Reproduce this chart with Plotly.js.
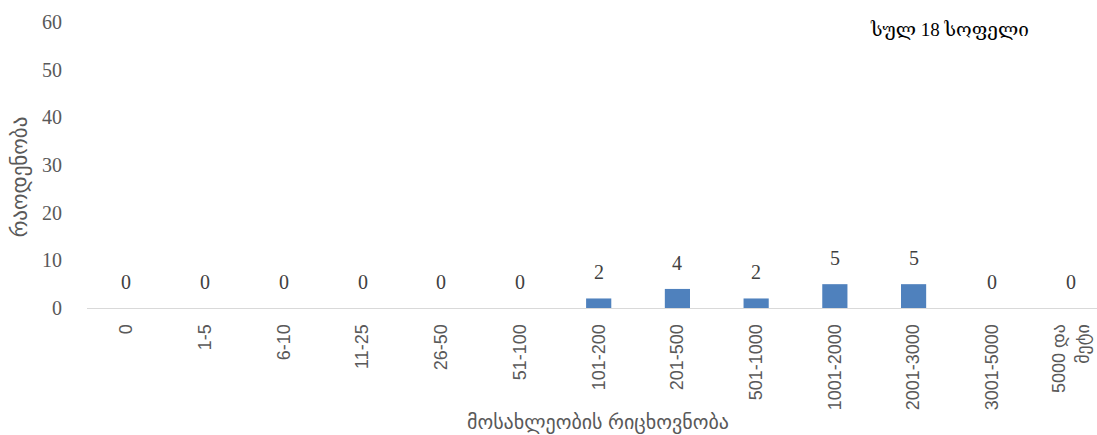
<!DOCTYPE html>
<html>
<head>
<meta charset="utf-8">
<script src="https://cdn.plot.ly/plotly-3.0.1.min.js"></script>
<style>html,body{margin:0;padding:0;overflow:hidden;background:#fff}</style>
</head>
<body>
<div id="chart" style="width:1097px;height:435px;"></div>
<script>
const categories = ["0","1-5","6-10","11-25","26-50","51-100","101-200","201-500","501-1000","1001-2000","2001-3000","3001-5000","5000 და<br>მეტი"];
const counts = [0,0,0,0,0,0,2,4,2,5,5,0,0];
const yTickValues = [0,10,20,30,40,50,60];
const xTitle = "მოსახლეობის რიცხოვნობა";
const yTitle = "რაოდენობა";
const noteText = "სულ 18 სოფელი";

const serif = "Liberation Serif, DejaVu Serif, serif";
const sans = "Liberation Sans, DejaVu Sans, sans-serif";

const labelAnnotations = categories.map((c, i) => ({
  x: c, y: counts[i], xref: 'x', yref: 'y',
  text: String(counts[i]), showarrow: false,
  yanchor: 'bottom', yshift: 13,
  font: {family: serif, size: 20, color: '#404040'}
}));

const trace = {
  type: 'bar',
  x: categories,
  y: counts,
  marker: {color: '#4f81bd'},
  hoverinfo: 'none'
};

const layout = {
  width: 1097, height: 435,
  margin: {l: 87, r: 0, t: 22, b: 127},
  paper_bgcolor: '#fff', plot_bgcolor: '#fff',
  showlegend: false,
  bargap: 0.68,
  xaxis: {
    type: 'category',
    range: [-0.5, 12.33],
    showgrid: false, zeroline: false,
    showline: true, linecolor: '#d9d9d9', linewidth: 1,
    ticks: '', tickangle: -90,
    ticklabelstandoff: 8,
    tickfont: {family: sans, size: 18, color: '#595959'}
  },
  yaxis: {
    range: [0, 60],
    tickvals: yTickValues,
    showgrid: false, zeroline: false, showline: false,
    ticks: '', ticklabelstandoff: 24,
    tickfont: {family: serif, size: 20, color: '#595959'}
  },
  annotations: labelAnnotations.concat([
    {xref: 'paper', yref: 'paper', x: 0.506, y: -0.4, xanchor: 'center', yanchor: 'middle',
     text: xTitle, showarrow: false, font: {family: sans, size: 20, color: '#595959'}},
    {xref: 'paper', yref: 'paper', x: -0.066, y: 0.458, xanchor: 'center', yanchor: 'middle',
     textangle: -90,
     text: yTitle, showarrow: false, font: {family: sans, size: 21, color: '#595959'}},
    {xref: 'paper', yref: 'paper', x: 0.773, y: 0.975, xanchor: 'left', yanchor: 'middle',
     text: noteText, showarrow: false, font: {family: serif, size: 19, color: '#000'}}
  ])
};

Plotly.newPlot('chart', [trace], layout, {displayModeBar: false, staticPlot: true});
</script>
</body>
</html>
